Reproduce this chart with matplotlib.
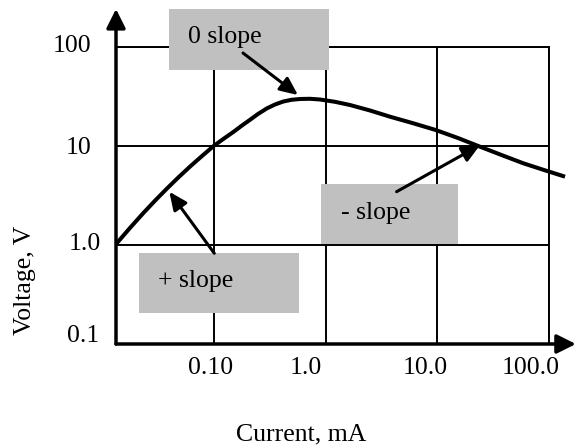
import matplotlib.pyplot as plt
from matplotlib.patches import Rectangle
from matplotlib.transforms import ScaledTranslation

plt.rcParams['font.family'] = ['Liberation Serif', 'DejaVu Serif']
plt.rcParams['font.size'] = 18.5

# V-I curve (log-log)
current = [0.01345, 0.01769, 0.02327, 0.02962, 0.0377, 0.04809, 0.06097, 0.07808,
           0.1, 0.1229, 0.1489, 0.1781, 0.2101, 0.2477, 0.2963, 0.3517, 0.4174,
           0.4943, 0.589, 0.7241, 0.8897, 1.212, 1.652, 2.495, 3.769, 6.053,
           9.667, 15.31, 24.1, 37.56, 58.86, 90.2, 139.1]
voltage = [1.04, 1.488, 2.1, 2.803, 3.696, 4.828, 6.193, 7.925,
           10.07, 11.91, 13.85, 16.11, 18.39, 21.05, 23.92, 26.26, 28.14,
           29.29, 29.84, 29.98, 29.49, 27.95, 25.95, 22.84, 19.77, 16.99,
           14.51, 12.04, 9.84, 8.11, 6.69, 5.72, 4.9]

x_ticks = [0.1, 1, 10, 100]
x_labels = ['0.10', '1.0', '10.0', '100.0']
y_ticks = [0.1, 1, 10, 100]
y_labels = ['0.1', '1.0', '10', '100']

notes = ['0 slope', '- slope', '+ slope']
note_targets = [(0.565, 32.7), (24.1, 10.2), (0.0398, 3.45)]

fig = plt.figure(figsize=(5.76, 4.45), dpi=100)
ax = fig.add_axes([116 / 576, 101 / 445, 433 / 576, 297 / 445])

ax.plot(current, voltage, color='black', lw=2.9, clip_on=False, zorder=3.5,
        solid_capstyle='butt', solid_joinstyle='round')

ax.set_xscale('log')
ax.set_yscale('log')
ax.set_xlim(10 ** (-1 - 98 / 111.67), 100)
ax.set_ylim(0.1, 100)
ax.minorticks_off()
ax.set_xticks(x_ticks)
ax.set_xticklabels(x_labels)
ax.set_yticks(y_ticks)
ax.set_yticklabels(y_labels)
ax.tick_params(length=0)
ax.tick_params(axis='x', pad=9)
ax.tick_params(axis='y', pad=14)
ax.grid(True, which='major', color='black', lw=1.4)

for side in ['left', 'bottom']:
    ax.spines[side].set_visible(False)
for side in ['top', 'right']:
    ax.spines[side].set_linewidth(1.4)

# nudge tick labels a bit (pixels) like the hand-drawn original
px = 72 / 100
for lab, dx in zip(ax.get_xticklabels(), [-3, -20, -12, -18]):
    lab.set_transform(lab.get_transform() + ScaledTranslation(dx * px / 72, 0, fig.dpi_scale_trans))
for lab, (dx, dy) in zip(ax.get_yticklabels(), [(3, 11), (4, 3), (-5, 1), (-5, 4)]):
    lab.set_transform(lab.get_transform() + ScaledTranslation(dx * px / 72, dy * px / 72, fig.dpi_scale_trans))

# axis arrows
axis_arrow = dict(arrowstyle='-|>,head_length=0.64,head_width=0.32', lw=2.5,
                  color='black', mutation_scale=18, shrinkA=0, shrinkB=0)
ax.annotate('', xy=(0, 1.128), xytext=(0, 0), xycoords='axes fraction',
            textcoords='axes fraction', arrowprops=axis_arrow, annotation_clip=False)
ax.annotate('', xy=(1.062, 0), xytext=(0, 0), xycoords='axes fraction',
            textcoords='axes fraction', arrowprops=axis_arrow, annotation_clip=False)

ax.set_xlabel('Current, mA', va='baseline')
ax.xaxis.set_label_coords(0.4273, -0.3232)
ax.set_ylabel('Voltage, V', va='center')
ax.yaxis.set_label_coords(-0.2102, 0.2155)

# grey note boxes with arrows to the curve
boxes = [(0.1224, 0.9226, 0.3695, 0.2054),
         (0.4734, 0.3367, 0.3164, 0.2020),
         (0.0531, 0.1044, 0.3695, 0.2020)]
text_pos = [(0.1663, 1.0135), (0.5196, 0.4209), (0.0970, 0.1909)]
tails = [(0.2933, 0.9798), (0.6480, 0.5128), (0.2270, 0.3054)]
note_arrow = dict(arrowstyle='-|>,head_length=0.6,head_width=0.27', lw=2.2,
                  color='black', mutation_scale=18, shrinkA=0, shrinkB=0)

for note, (bx, by, bw, bh), (tx, ty), tail, tip in zip(notes, boxes, text_pos, tails, note_targets):
    ax.add_patch(Rectangle((bx, by), bw, bh, transform=ax.transAxes, facecolor='#c0c0c0',
                           edgecolor='none', clip_on=False, zorder=3))
    ax.text(tx, ty, note, transform=ax.transAxes, ha='left', va='baseline', zorder=5)
    ax.annotate('', xy=tip, xycoords='data', xytext=tail, textcoords='axes fraction',
                arrowprops=note_arrow, annotation_clip=False, zorder=4)

fig.savefig('out.png', dpi=100)
